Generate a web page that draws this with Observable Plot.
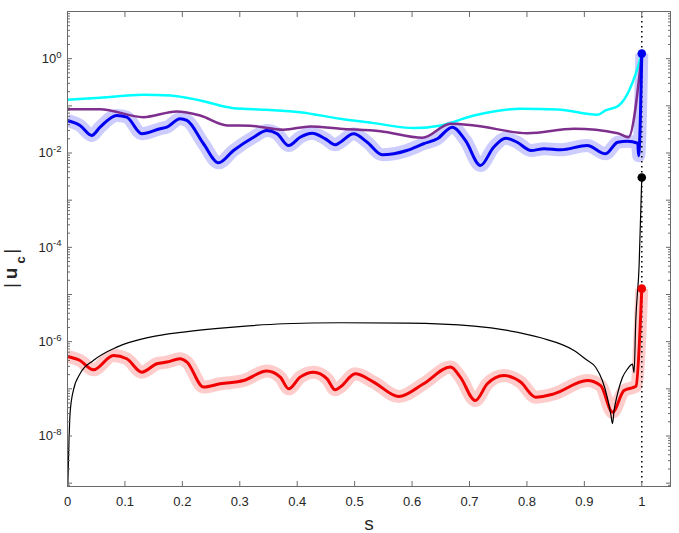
<!DOCTYPE html>
<html><head><meta charset="utf-8">
<script src="https://cdn.jsdelivr.net/npm/d3@7"></script>
<script src="https://cdn.jsdelivr.net/npm/@observablehq/plot@0.6"></script>
<style>body{margin:0;background:#fff;} #chart svg{display:block;}</style>
</head><body><div id="chart"></div>
<script>
// ---- data (s, |u_c|) ----
const sCyan = [0, 0.0567, 0.132, 0.179, 0.231, 0.289, 0.347, 0.405, 0.475, 0.533, 0.603, 0.650, 0.708, 0.789, 0.853, 0.923, 0.937, 0.960, 0.978, 0.9895, 1.0];
const uCyan = [0.135, 0.149, 0.172, 0.166, 0.130, 0.0893, 0.0826, 0.0735, 0.0532, 0.0430, 0.0337, 0.0384, 0.0625, 0.0867, 0.0839, 0.0647, 0.0798, 0.102, 0.212, 0.481, 1.28];

const sPurple = [0, 0.0567, 0.132, 0.190, 0.231, 0.278, 0.318, 0.376, 0.423, 0.475, 0.545, 0.618, 0.667, 0.708, 0.801, 0.882, 0.958, 0.9768, 1.0];
const uPurple = [0.0851, 0.0851, 0.0575, 0.0760, 0.0625, 0.0384, 0.0378, 0.0311, 0.0366, 0.0327, 0.0290, 0.0210, 0.0417, 0.0384, 0.0263, 0.0327, 0.0263, 0.0217, 1.28];

const sBlue = [0, 0.0218, 0.0422, 0.0567, 0.0858, 0.1032, 0.1294, 0.1613, 0.173, 0.196, 0.208, 0.2368, 0.263, 0.289, 0.324, 0.347, 0.365, 0.385, 0.405, 0.426, 0.449, 0.466, 0.475, 0.498, 0.522, 0.548, 0.591, 0.620, 0.644, 0.670, 0.693, 0.719, 0.742, 0.763, 0.783, 0.807, 0.830, 0.859, 0.905, 0.937, 0.958, 0.975, 0.993, 0.9945, 1.0];
const uBlue = [0.0490, 0.0384, 0.0236, 0.0353, 0.0625, 0.0575, 0.0256, 0.0327, 0.0353, 0.0532, 0.0490, 0.0157, 0.00619, 0.0113, 0.0216, 0.0301, 0.0256, 0.0144, 0.0216, 0.0263, 0.0200, 0.0149, 0.0169, 0.0256, 0.0169, 0.00916, 0.0113, 0.0157, 0.0200, 0.0353, 0.0184, 0.00543, 0.0133, 0.0206, 0.0169, 0.0113, 0.0123, 0.0117, 0.0144, 0.00962, 0.0169, 0.0178, 0.0161, 0.0087, 1.28];

const sRed = [0, 0.0218, 0.045, 0.0799, 0.1032, 0.1294, 0.1555, 0.173, 0.196, 0.208, 0.2368, 0.266, 0.3065, 0.347, 0.3705, 0.385, 0.405, 0.4286, 0.452, 0.466, 0.475, 0.501, 0.533, 0.577, 0.620, 0.667, 0.684, 0.710, 0.731, 0.760, 0.789, 0.815, 0.847, 0.905, 0.9285, 0.949, 0.969, 0.9866, 0.990, 1.0];
const uRed = [4.85e-7, 3.99e-7, 2.53e-7, 5.09e-7, 4.34e-7, 2.26e-7, 3.40e-7, 3.69e-7, 4.34e-7, 3.69e-7, 1.09e-7, 1.28e-7, 1.50e-7, 2.38e-7, 1.77e-7, 1.00e-7, 1.77e-7, 2.26e-7, 1.63e-7, 9.53e-8, 1.09e-7, 2.08e-7, 1.39e-7, 6.87e-8, 1.28e-7, 2.89e-7, 1.77e-7, 5.65e-8, 1.28e-7, 1.91e-7, 1.39e-7, 6.67e-8, 7.83e-8, 1.50e-7, 1.17e-7, 3.20e-8, 9.20e-8, 1.09e-7, 1.15e-7, 1.33e-5];

const sBlack = [0, 0.0021, 0.0044, 0.0101, 0.0218, 0.045, 0.0858, 0.1439, 0.202, 0.289, 0.376, 0.475, 0.591, 0.708, 0.766, 0.824, 0.882, 0.902, 0.920, 0.9315, 0.940, 0.946, 0.949, 0.9517, 0.9576, 0.9663, 0.975, 0.9838, 0.9866, 0.9895, 0.9953, 1.0];
const uBlack = [5e-10, 4.9e-9, 2.95e-8, 9.2e-8, 2.08e-7, 3.99e-7, 7.67e-7, 1.25e-6, 1.60e-6, 2.04e-6, 2.40e-6, 2.52e-6, 2.48e-6, 2.14e-6, 1.73e-6, 1.21e-6, 6.50e-7, 4.28e-7, 2.83e-7, 1.48e-7, 6.53e-8, 2.90e-8, 1.83e-8, 3.41e-8, 7.71e-8, 1.74e-7, 2.62e-7, 3.34e-7, 2.22e-7, 2.78e-6, 3.98e-5, 3.02e-3];

const sMarker = [1];

// ---- ticks ----
const xTicks = [0, 0.1, 0.2, 0.3, 0.4, 0.5, 0.6, 0.7, 0.8, 0.9, 1];
const xTickLabels = ["0", "0.1", "0.2", "0.3", "0.4", "0.5", "0.6", "0.7", "0.8", "0.9", "1"];
const yLabelTicks = [1e-8, 1e-6, 1e-4, 1e-2, 1];
const yTickLabels = ["10^-8", "10^-6", "10^-4", "10^-2", "10^0"];
const yDecades = [1e-10, 1e-9, 1e-8, 1e-7, 1e-6, 1e-5, 1e-4, 1e-3, 1e-2, 1e-1, 1, 10];
const yMantissas = [2, 3, 4, 5, 6, 7, 8, 9];
const yMinorTicks = yDecades.flatMap(d => yMantissas.map(m => m * d));

const rows = (s, u) => s.map((v, i) => ({s: v, u: u[i]}));
const cyan = rows(sCyan, uCyan), purple = rows(sPurple, uPurple), blue = rows(sBlue, uBlue), red = rows(sRed, uRed), black = rows(sBlack, uBlack);

const yDomain = [8.5e-10, 10];
const inY = d => d >= yDomain[0] && d <= yDomain[1];
const tickColor = "#6a6a6a";
const ax = (opts) => ({label: null, stroke: tickColor, ...opts});

const chart = Plot.plot({
  width: 679, height: 533,
  marginLeft: 67, marginRight: 9, marginTop: 11, marginBottom: 47,
  style: {fontFamily: "'Liberation Sans', Arial, sans-serif", fontSize: "13px", color: "#262626", background: "#fff"},
  x: {domain: [0, 1.05]},
  y: {type: "log", domain: yDomain},
  marks: [
    // halos
    Plot.line(blue, {x: "s", y: "u", stroke: "#ccccff", strokeWidth: 13, curve: "monotone-x", strokeLinejoin: "round", strokeLinecap: "butt", clip: true}),
    Plot.line(red, {x: "s", y: "u", stroke: "#ffcccc", strokeWidth: 13, curve: "monotone-x", strokeLinejoin: "round", strokeLinecap: "butt", clip: true}),
    // dotted marker line
    Plot.ruleX(sMarker, {stroke: "#000", strokeWidth: 1.5, strokeDasharray: "1.5,3.5"}),
    // main curves
    Plot.line(cyan, {x: "s", y: "u", stroke: "#00ffff", strokeWidth: 2.5, curve: "monotone-x", clip: true}),
    Plot.line(purple, {x: "s", y: "u", stroke: "#7e2f8e", strokeWidth: 2.5, curve: "monotone-x", clip: true}),
    Plot.line(blue, {x: "s", y: "u", stroke: "#0000f0", strokeWidth: 3, curve: "monotone-x", clip: true}),
    Plot.line(red, {x: "s", y: "u", stroke: "#f00000", strokeWidth: 3, curve: "monotone-x", clip: true}),
    Plot.line(black, {x: "s", y: "u", stroke: "#000", strokeWidth: 1.2, curve: "monotone-x", clip: true}),
    // end markers
    Plot.dot(blue.slice(-1), {x: "s", y: "u", fill: "#0000f0", r: 4.3}),
    Plot.dot(black.slice(-1), {x: "s", y: "u", fill: "#000", r: 4.3}),
    Plot.dot(red.slice(-1), {x: "s", y: "u", fill: "#f00000", r: 4.3}),
    // frame + inward ticks
    Plot.frame({stroke: tickColor, strokeWidth: 1}),
    Plot.axisX(xTicks, ax({anchor: "bottom", tickSize: -5, tickFormat: () => ""})),
    Plot.axisX(xTicks, ax({anchor: "top", tickSize: -5, tickFormat: () => ""})),
    Plot.axisY(yDecades.filter(inY), ax({anchor: "left", tickSize: -5, tickFormat: () => ""})),
    Plot.axisY(yDecades.filter(inY), ax({anchor: "right", tickSize: -5, tickFormat: () => ""})),
    Plot.axisY(yMinorTicks.filter(inY), ax({anchor: "left", tickSize: -3, tickFormat: () => ""})),
    Plot.axisY(yMinorTicks.filter(inY), ax({anchor: "right", tickSize: -3, tickFormat: () => ""})),
    // labels
    Plot.axisX(xTicks, {anchor: "bottom", label: null, tickSize: 0, tickPadding: 10, tickFormat: (d, i) => xTickLabels[i]}),
    Plot.axisY(yLabelTicks, {anchor: "left", label: null, tickSize: 0, tickPadding: 6, tickFormat: d => yTickLabels[yLabelTicks.indexOf(d)]})
  ]
});

document.getElementById("chart").appendChild(chart);
const svg = d3.select(chart);

// superscripts for y tick labels
svg.selectAll("text").each(function() {
  const t = this.textContent;
  if (!t.includes("^")) return;
  const [base, exp] = t.split("^");
  const el = d3.select(this);
  el.text(null);
  el.append("tspan").text(base);
  el.append("tspan").attr("dy", "-0.55em").style("font-size", "9.5px").text(exp);
});

// axis labels
svg.append("text")
  .attr("x", 369).attr("y", 529.5)
  .attr("text-anchor", "middle")
  .style("font-family", "'Liberation Sans', Arial, sans-serif")
  .style("font-size", "19px").attr("fill", "#262626")
  .text("s");

const yl = svg.append("text")
  .attr("transform", "translate(17.3,270) rotate(-90)")
  .style("font-family", "'Liberation Sans', Arial, sans-serif")
  .style("font-size", "19px").attr("fill", "#262626");
yl.append("tspan").attr("dx", 1.5).text("|");
yl.append("tspan").attr("dx", 4).style("font-weight", "bold").text("u");
yl.append("tspan").attr("dx", 4).attr("dy", 7.7).style("font-size", "13px").style("font-weight", "bold").text("c");
yl.append("tspan").attr("dx", 2.5).attr("dy", -7.7).text("|");
</script>
</body></html>
